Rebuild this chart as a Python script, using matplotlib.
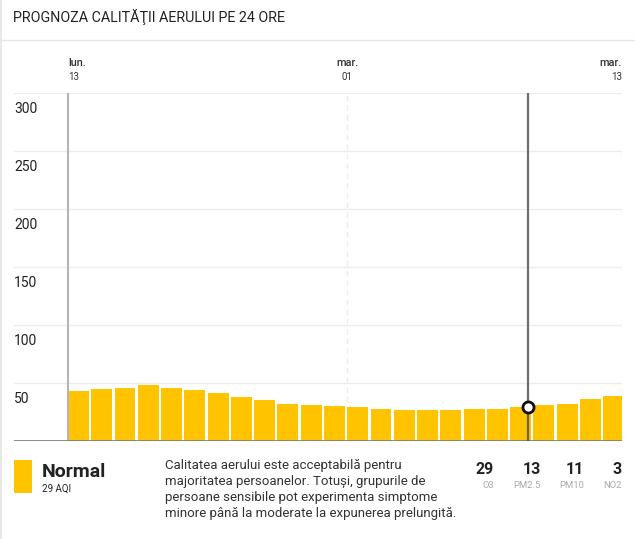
import matplotlib
matplotlib.use("Agg")
import matplotlib.pyplot as plt
import matplotlib.transforms as mtransforms
from matplotlib.patches import Rectangle
import numpy as np

plt.rcParams['font.family'] = ['Roboto', 'DejaVu Sans']

# ---------------- data ----------------
title = "PROGNOZA CALITĂŢII AERULUI PE 24 ORE"
hours = list(range(24))
aqi = [43, 45, 46, 48, 46, 44, 41, 38, 35, 32, 31, 30,
       29, 28, 27, 27, 27, 28, 28, 29, 31, 32, 36, 39]
y_ticks = [50, 100, 150, 200, 250, 300]
x_tick_pos = [0, 12, 23.8]
x_tick_day = ["lun.", "mar.", "mar."]
x_tick_hour = ["13", "01", "13"]
cursor_x = 19.75
cursor_value = 29
status = "Normal"
status_sub = "29 AQI"
description = ("Calitatea aerului este acceptabilă pentru\n"
               "majoritatea persoanelor. Totuși, grupurile de\n"
               "persoane sensibile pot experimenta simptome\n"
               "minore până la moderate la expunerea prelungită.")
pollutant_values = ["29", "13", "11", "3"]
pollutant_names = ["O3", "PM2.5", "PM10", "NO2"]

BAR = "#FFC300"
W, H = 635, 539
fig = plt.figure(figsize=(W / 100, H / 100), dpi=100)
fig.patch.set_facecolor("white")

def fx(px):
    return px / W

def fy(py):
    return 1 - py / H

# frame: left border and title separator
fig.add_artist(Rectangle((0, 0), fx(2), 1, transform=fig.transFigure,
                         color="#e8e8e8", lw=0))
fig.add_artist(plt.Line2D([0, 1], [fy(39.5), fy(39.5)], transform=fig.transFigure,
                          color="#e6e6e6", lw=1))
fig.text(fx(13), fy(17), title, fontsize=10.3, color="#222222",
         va="center", ha="left")

# ---------------- chart ----------------
ax_left, ax_right = 14, 622
ax_top, ax_bot = 93, 441
ax = fig.add_axes([fx(ax_left), fy(ax_bot), fx(ax_right - ax_left),
                   (ax_bot - ax_top) / H])
px_per_hour = 23.27
xmin = -(68 - ax_left) / px_per_hour
xmax = (ax_right - 68) / px_per_hour
ax.set_xlim(xmin, xmax)
ax.set_ylim(0, 300)
for s in ax.spines.values():
    s.set_visible(False)
ax.set_xticks([])
ax.set_yticks([])
ax.patch.set_alpha(0)

for v in y_ticks:
    ax.axhline(v, color="#ededed", lw=1, zorder=0)
trans = mtransforms.blended_transform_factory(ax.transAxes, ax.transData)
off = mtransforms.offset_copy(trans, fig=fig, x=0, y=-16, units="dots")
for v in y_ticks:
    ax.text(0.0, v, str(v), transform=off, fontsize=10, color="#222222",
            ha="left", va="center")

ax.bar(hours, aqi, width=0.9, align="edge", color=BAR, lw=0, zorder=2)

ax.axvline(0, color="#b5b5b5", lw=1.5, zorder=3)
for xp in x_tick_pos[1:]:
    ax.axvline(xp, color="#eeeeee", lw=1, ls=(0, (4, 3)), zorder=1)
ax.axhline(0, color="#7a7a6a", lw=1.2, zorder=4)

# x labels above plot
tx = mtransforms.blended_transform_factory(ax.transData, fig.transFigure)
aligns = ["left", "center", "right"]
for xp, d, h, ha in zip(x_tick_pos, x_tick_day, x_tick_hour, aligns):
    ax.text(xp, fy(63), d, transform=tx, fontsize=7.8, color="#333333",
            ha=ha, va="center", fontweight="medium")
    ax.text(xp, fy(77), h, transform=tx, fontsize=7, color="#333333",
            ha=ha, va="center")

# cursor
ax.axvline(cursor_x, color="#555555", lw=1.6, alpha=0.85, zorder=5)
ax.plot([cursor_x], [cursor_value], marker="o", ms=8, mfc="white",
        mec="#111111", mew=2, zorder=6, clip_on=False)

# ---------------- footer ----------------
fig.add_artist(Rectangle((fx(14), fy(493)), fx(18), (493 - 460) / H,
                         transform=fig.transFigure, color=BAR, lw=0))
fig.text(fx(42), fy(477), status, fontsize=14, fontweight="bold",
         color="#222222", ha="left", va="baseline")
fig.text(fx(42), fy(492), status_sub, fontsize=7, color="#222222",
         ha="left", va="baseline")
fig.text(fx(165), fy(459), description, fontsize=9.5, color="#333333",
         ha="left", va="top", linespacing=1.3)

rights = [494, 541, 584, 622]
for r, v, n in zip(rights, pollutant_values, pollutant_names):
    fig.text(fx(r), fy(474), v, fontsize=11.5, fontweight="bold",
             color="#222222", ha="right", va="baseline")
    fig.text(fx(r), fy(488), n, fontsize=6.8, color="#aaaaaa",
             ha="right", va="baseline")

fig.savefig("out.png", dpi=100, facecolor="white")
